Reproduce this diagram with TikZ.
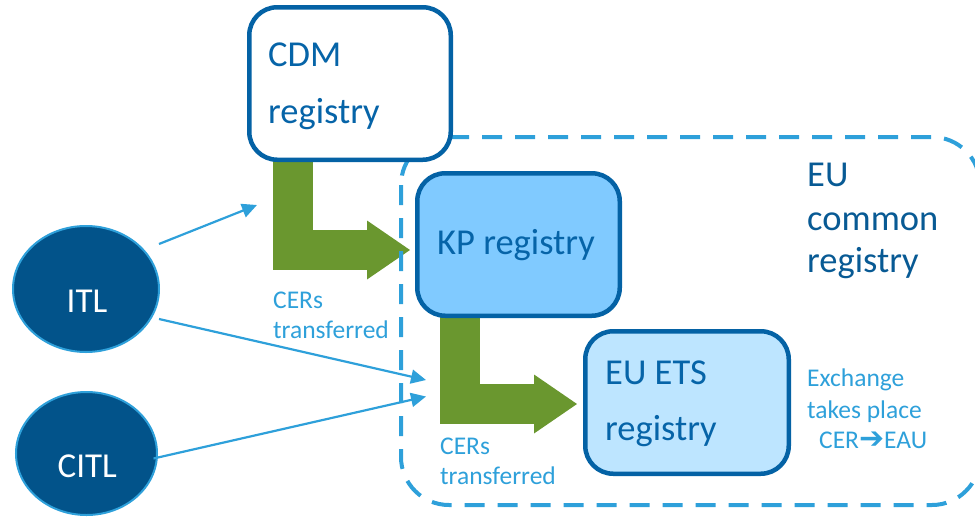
\documentclass[tikz,border=0pt]{standalone}
\usepackage{fontspec}
\setmainfont{Carlito}
\newfontfamily\arrowfont{DejaVu Sans}
\usetikzlibrary{arrows.meta,shapes.geometric,calc,backgrounds}

\definecolor{boxline}{RGB}{4,98,165}
\definecolor{boxtxt}{RGB}{6,100,168}
\definecolor{commontxt}{RGB}{8,90,148}
\definecolor{kpfill}{RGB}{128,202,255}
\definecolor{etsfill}{RGB}{189,229,255}
\definecolor{lightline}{RGB}{46,160,218}
\definecolor{itlfill}{RGB}{2,83,138}
\definecolor{cergreen}{RGB}{106,151,47}

\begin{document}
\begin{tikzpicture}[x=1pt,y=-1pt,
  regbox/.style={draw=boxline, line width=4.5pt, rounded corners=28pt, inner sep=0pt},
  logbox/.style={ellipse, draw=lightline, line width=2pt, fill=itlfill, inner sep=0pt},
  bigtext/.style={anchor=base west, inner sep=0pt, text=boxtxt, font=\fontsize{36.5}{36.5}\selectfont},
  logtext/.style={anchor=base west, inner sep=0pt, text=white, font=\fontsize{35}{35}\selectfont},
  smalltext/.style={anchor=base west, inner sep=0pt, text=lightline, font=\fontsize{25.5}{30}\selectfont},
  link/.style={draw=lightline, line width=2.2pt, -{Triangle[length=15pt,width=14pt]}},
  transfer/.style={draw=cergreen, line width=40pt, line join=miter,
    -{Triangle[length=43pt,width=59pt,line width=0pt]}},
  boundary/.style={draw=lightline, line width=4pt, dash pattern=on 20pt off 13pt, rounded corners=48pt}
]
\useasboundingbox (0,0) rectangle (975,517);

% EU common registry boundary
\draw[boundary] (401,137) rectangle (980,505);

% registries
\node[regbox, fill=white, minimum width=201.5pt, minimum height=152.5pt] (cdm) at (350,83.5) {};
\node[regbox, fill=kpfill, minimum width=202.5pt, minimum height=142.5pt] (kp) at (518.5,244.5) {};
\node[regbox, fill=etsfill, minimum width=203.5pt, minimum height=142.5pt] (ets) at (687,402.5) {};

% transaction logs
\node[logbox, minimum width=146pt, minimum height=126pt] (itl) at (86,289) {};
\node[logbox, minimum width=141pt, minimum height=123pt] (citl) at (86.5,453.5) {};

% CER transfers
\begin{scope}[on background layer]
  \draw[transfer] ($(cdm.south)+(-57.5,-3)$) |- ($(kp.west)+(-5,5.5)$);
  \draw[transfer] ($(kp.south)+(-59,-3)$) |- ($(ets.west)+(-6,1.5)$);
\end{scope}

% checks by the transaction logs
\coordinate (cdmcheck) at (257,205);
\coordinate (etscheckA) at (426,380);
\coordinate (etscheckB) at (426,396.5);
\draw[link] ($(itl.center)+(73,-45)$) -- (cdmcheck);
\draw[link] ($(itl.center)+(73,30)$) -- (etscheckA);
\draw[link] ($(citl.center)+(67,5)$) -- (etscheckB);

% labels
\node[bigtext] (cdmA) at (268,66) {CDM};
\node[bigtext] (cdmB) at (268,123) {registry};
\node[bigtext] (kpA) at (437,254) {KP registry};
\node[bigtext] (etsA) at (605,384) {EU ETS};
\node[bigtext] (etsB) at (605,440) {registry};
\node[bigtext, text=commontxt] (euA) at (807,186) {EU};
\node[bigtext, text=commontxt] (euB) at (807,230) {common};
\node[bigtext, text=commontxt] (euC) at (807,272) {registry};

\node[logtext] (itlA) at (66.5,312) {ITL};
\node[logtext] (citlA) at (57.5,477) {CITL};

\node[smalltext] (cerA) at (273,308) {CERs};
\node[smalltext] (cerB) at (273,338) {transferred};
\node[smalltext] (cerC) at (440,454) {CERs};
\node[smalltext] (cerD) at (440,484) {transferred};
\node[smalltext] (exA) at (807,386) {Exchange};
\node[smalltext] (exB) at (807,418) {takes place};
\node[smalltext] (exC) at (819,448) {CER{\arrowfont\fontsize{30}{30}\selectfont ➔}EAU};
\end{tikzpicture}
\end{document}
